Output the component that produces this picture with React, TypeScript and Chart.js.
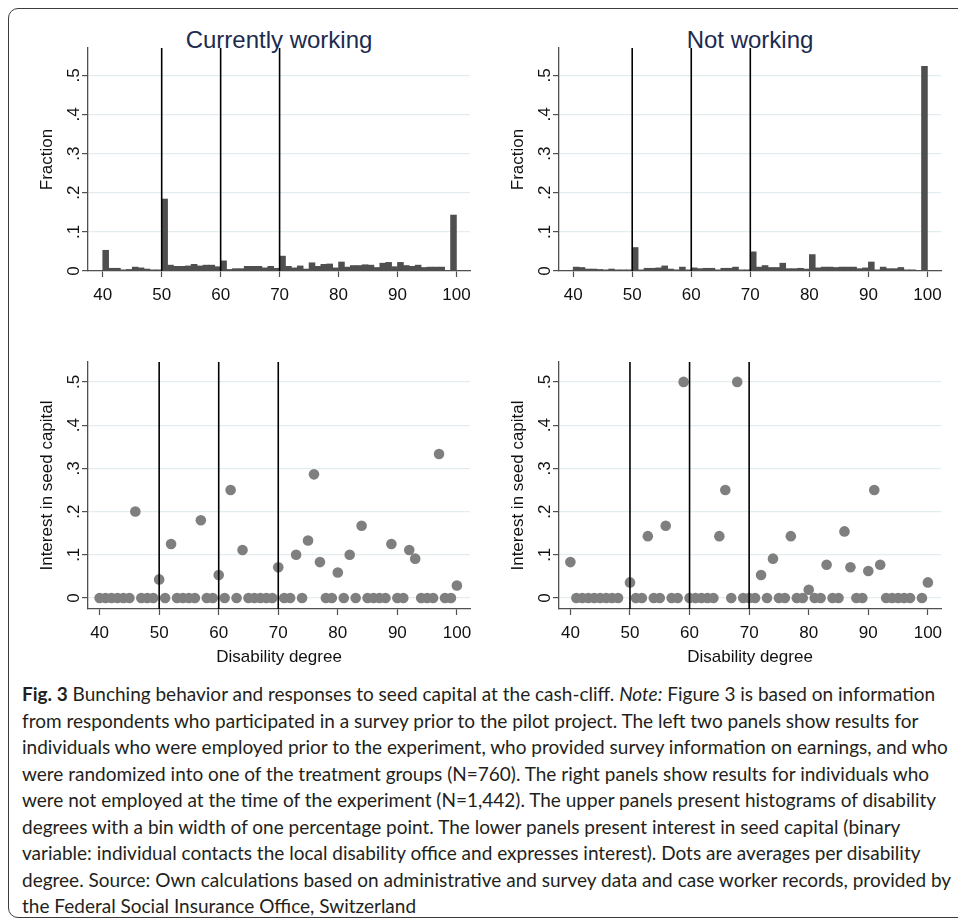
import React, { useEffect, useRef } from "react";
import { Chart, registerables } from "chart.js";

Chart.register(...registerables);

// ---------- data ----------
const histBins = [
  40, 41, 42, 43, 44, 45, 46, 47, 48, 49,
  50, 51, 52, 53, 54, 55, 56, 57, 58, 59,
  60, 61, 62, 63, 64, 65, 66, 67, 68, 69,
  70, 71, 72, 73, 74, 75, 76, 77, 78, 79,
  80, 81, 82, 83, 84, 85, 86, 87, 88, 89,
  90, 91, 92, 93, 94, 95, 96, 97, 98, 99,
];
const workingFraction = [
  0.053, 0.007, 0.007, 0.003, 0.004, 0.010, 0.008, 0.005, 0.003, 0.003,
  0.184, 0.015, 0.012, 0.012, 0.013, 0.017, 0.013, 0.015, 0.015, 0.011,
  0.026, 0.004, 0.006, 0.006, 0.012, 0.012, 0.012, 0.008, 0.012, 0.007,
  0.038, 0.012, 0.008, 0.013, 0.005, 0.021, 0.012, 0.017, 0.018, 0.008,
  0.023, 0.010, 0.014, 0.014, 0.016, 0.015, 0.009, 0.020, 0.022, 0.011,
  0.022, 0.014, 0.012, 0.015, 0.009, 0.010, 0.010, 0.010, 0.000, 0.143,
];
const notWorkingFraction = [
  0.010, 0.009, 0.005, 0.005, 0.004, 0.003, 0.005, 0.003, 0.003, 0.003,
  0.060, 0.003, 0.007, 0.007, 0.008, 0.013, 0.005, 0.003, 0.010, 0.003,
  0.008, 0.006, 0.007, 0.007, 0.003, 0.007, 0.007, 0.010, 0.003, 0.003,
  0.049, 0.010, 0.014, 0.009, 0.009, 0.020, 0.006, 0.006, 0.007, 0.005,
  0.042, 0.008, 0.010, 0.010, 0.009, 0.010, 0.010, 0.010, 0.006, 0.008,
  0.023, 0.003, 0.010, 0.006, 0.006, 0.009, 0.003, 0.003, 0.000, 0.523,
];

const degreesWorking = [
  40, 41, 42, 43, 44, 45, 46, 47, 48, 49,
  50, 51, 52, 53, 54, 55, 56, 57, 58, 59,
  60, 61, 62, 63, 64, 65, 66, 67, 68, 69,
  70, 71, 72, 73, 74, 75, 76, 77, 78, 79,
  80, 81, 82, 83, 84, 85, 86, 87, 88, 89,
  90, 91, 92, 93, 94, 95, 96, 97, 98, 99, 100,
];
const interestWorking = [
  0, 0, 0, 0, 0, 0, 0.2, 0, 0, 0,
  0.043, 0, 0.125, 0, 0, 0, 0, 0.18, 0, 0,
  0.053, 0, 0.25, 0, 0.111, 0, 0, 0, 0, 0,
  0.071, 0, 0, 0.1, 0, 0.133, 0.286, 0.083, 0, 0,
  0.059, 0, 0.1, 0, 0.167, 0, 0, 0, 0, 0.125,
  0, 0, 0.111, 0.091, 0, 0, 0, 0.333, 0, 0, 0.029,
];

const degreesNotWorking = [
  40, 41, 42, 43, 44, 45, 46, 47, 48,
  50, 51, 52, 53, 54, 55, 56, 57, 58, 59,
  60, 61, 62, 63, 64, 65, 66, 67, 68, 69,
  70, 71, 72, 73, 74, 75, 76, 77, 78, 79,
  80, 81, 82, 83, 84, 85, 86, 87, 88, 89,
  90, 91, 92, 93, 94, 95, 96, 97, 99, 100,
];
const interestNotWorking = [
  0.083, 0, 0, 0, 0, 0, 0, 0, 0,
  0.036, 0, 0, 0.143, 0, 0, 0.167, 0, 0, 0.5,
  0, 0, 0, 0, 0, 0.143, 0.25, 0, 0.5, 0,
  0, 0, 0.053, 0, 0.091, 0, 0, 0.143, 0, 0,
  0.019, 0, 0, 0.077, 0, 0, 0.154, 0.071, 0, 0,
  0.0625, 0.25, 0.077, 0, 0, 0, 0, 0, 0, 0.036,
];

const cutoffs = [50, 60, 70];
const xTickValues = [40, 50, 60, 70, 80, 90, 100];
const yTickValues = [0, 0.1, 0.2, 0.3, 0.4, 0.5];
const yTickLabels = ["0", ".1", ".2", ".3", ".4", ".5"];
const panelTitles = ["Currently working", "Not working"];
const yTitles = ["Fraction", "Interest in seed capital"];
const xTitle = "Disability degree";

const captionLines = [
  "from respondents who participated in a survey prior to the pilot project. The left two panels show results for",
  "individuals who were employed prior to the experiment, who provided survey information on earnings, and who",
  "were randomized into one of the treatment groups (N=760). The right panels show results for individuals who",
  "were not employed at the time of the experiment (N=1,442). The upper panels present histograms of disability",
  "degrees with a bin width of one percentage point. The lower panels present interest in seed capital (binary",
  "variable: individual contacts the local disability office and expresses interest). Dots are averages per disability",
  "degree. Source: Own calculations based on administrative and survey data and case worker records, provided by",
  "the Federal Social Insurance Office, Switzerland",
];

// ---------- style ----------
const FONT = "'Liberation Sans', Arial, Helvetica, sans-serif";
const AXIS = "#505050";
const GRID = "#e3ecee";
const TEXT = "#111111";
const BAR = "#4f4f4f";
const DOT = "#7f7f7f";

type Frame = {
  plotLeft: number;
  plotRight: number;
  plotTop: number;
  plotBottom: number;
  canvasLeft: number;
  canvasTop: number;
  canvasRight: number;
  canvasBottom: number;
};

type PanelProps = {
  kind: "hist" | "scatter";
  xs: number[];
  ys: number[];
  frame: Frame;
  xMin: number;
  xMax: number;
  yMin: number;
  yMax: number;
  yTitle: string;
  showXTitle: boolean;
};

function Panel(props: PanelProps) {
  const ref = useRef<HTMLCanvasElement | null>(null);
  const { kind, xs, ys, frame, xMin, xMax, yMin, yMax, yTitle, showXTitle } = props;
  const w = frame.canvasRight - frame.canvasLeft;
  const h = frame.canvasBottom - frame.canvasTop;

  useEffect(() => {
    if (!ref.current) return;
    const points = xs.map((x, i) => ({ x: kind === "hist" ? x + 0.5 : x, y: ys[i] }));
    const lineSets = cutoffs.map((c) => ({
      type: "line" as const,
      data: [
        { x: c, y: yMin },
        { x: c, y: yMax },
      ],
      borderColor: "#000000",
      borderWidth: 1.6,
      pointRadius: 0,
      fill: false,
      showLine: true,
      order: 0,
    }));
    const main =
      kind === "hist"
        ? {
            type: "bar" as const,
            data: points,
            backgroundColor: BAR,
            borderWidth: 0,
            barPercentage: 1,
            categoryPercentage: 1,
            order: 2,
          }
        : {
            type: "scatter" as const,
            data: points,
            pointRadius: 5.3,
            pointBackgroundColor: DOT,
            pointBorderWidth: 0,
            borderColor: DOT,
            showLine: false,
            order: 2,
          };

    const chart = new Chart(ref.current, {
      type: kind === "hist" ? "bar" : "scatter",
      data: { datasets: [main as any, ...(lineSets as any[])] },
      options: {
        animation: false,
        responsive: false,
        maintainAspectRatio: false,
        layout: {
          padding: {
            left: 0,
            top: frame.plotTop - frame.canvasTop,
            right: frame.canvasRight - frame.plotRight,
            bottom: 0,
          },
        },
        plugins: {
          legend: { display: false },
          tooltip: { enabled: false },
          title: { display: false },
        },
        scales: {
          x: {
            type: "linear",
            offset: false,
            min: xMin,
            max: xMax,
            afterBuildTicks: (s: any) => {
              s.ticks = xTickValues.map((v) => ({ value: v }));
            },
            afterFit: (s: any) => {
              s.height = frame.canvasBottom - frame.plotBottom;
              s.paddingLeft = 0;
              s.paddingRight = 0;
            },
            grid: {
              display: true,
              offset: false,
              drawOnChartArea: false,
              drawTicks: true,
              tickLength: 6,
              tickColor: AXIS,
              tickWidth: 1.2,
            },
            border: { display: true, color: AXIS, width: 1.3 },
            ticks: {
              font: { family: FONT, size: 17 },
              color: TEXT,
              padding: 8,
              maxRotation: 0,
              minRotation: 0,
              autoSkip: false,
              callback: (_v: any, i: number) => String(xTickValues[i]),
            },
            title: {
              display: showXTitle,
              text: xTitle,
              font: { family: FONT, size: 17 },
              color: TEXT,
              padding: { top: 0, bottom: 0 },
            },
          },
          y: {
            type: "linear",
            min: yMin,
            max: yMax,
            afterBuildTicks: (s: any) => {
              s.ticks = yTickValues.map((v) => ({ value: v }));
            },
            afterFit: (s: any) => {
              s.width = frame.plotLeft - frame.canvasLeft;
              s.paddingTop = 0;
              s.paddingBottom = 0;
            },
            grid: {
              display: true,
              drawOnChartArea: true,
              color: GRID,
              lineWidth: 1.2,
              drawTicks: true,
              tickLength: 6,
              tickColor: AXIS,
              tickWidth: 1.2,
            },
            border: { display: true, color: AXIS, width: 1.3 },
            ticks: {
              font: { family: FONT, size: 17 },
              color: TEXT,
              padding: 1,
              minRotation: 90,
              maxRotation: 90,
              crossAlign: "center",
              autoSkip: false,
              callback: (_v: any, i: number) => yTickLabels[i],
            },
            title: {
              display: true,
              text: yTitle,
              font: { family: FONT, size: 17 },
              color: TEXT,
              padding: { top: frame.plotLeft - 41 - frame.canvasLeft - 10, bottom: 0 },
            },
          },
        },
      } as any,
    });
    return () => chart.destroy();
  }, []);

  return (
    <canvas
      ref={ref}
      width={w}
      height={h}
      style={{
        position: "absolute",
        left: frame.canvasLeft,
        top: frame.canvasTop,
        width: w,
        height: h,
      }}
    />
  );
}

function makeFrame(plotLeft: number, plotRight: number, plotTop: number, plotBottom: number, canvasBottom: number): Frame {
  return {
    plotLeft,
    plotRight,
    plotTop,
    plotBottom,
    canvasLeft: plotLeft - 70,
    canvasTop: plotTop - 8,
    canvasRight: plotRight + 6,
    canvasBottom,
  };
}

export default function App() {
  const frTL = makeFrame(88, 470, 48, 271, 314);
  const frTR = makeFrame(559, 941, 48, 271, 314);
  const frBL = makeFrame(88, 470, 362, 609, 668);
  const frBR = makeFrame(559, 941, 362, 609, 668);

  return (
    <div
      style={{
        position: "absolute",
        left: 0,
        top: 0,
        width: 958,
        height: 923,
        overflow: "hidden",
        background: "#ffffff",
      }}
    >
      <div
        style={{
          position: "absolute",
          left: 8,
          top: 8,
          width: 990,
          height: 908,
          border: "1.5px solid #3c3c3c",
          borderRadius: 10,
        }}
      />
      {[frTL, frTR].map((f, i) => (
        <div
          key={i}
          style={{
            position: "absolute",
            left: f.plotLeft,
            width: f.plotRight - f.plotLeft,
            top: 26,
            height: 28,
            lineHeight: "28px",
            textAlign: "center",
            fontFamily: FONT,
            fontSize: 24,
            color: "#1d2b50",
            whiteSpace: "nowrap",
          }}
        >
          {panelTitles[i]}
        </div>
      ))}
      <Panel kind="hist" xs={histBins} ys={workingFraction} frame={frTL} xMin={37.5} xMax={102.3} yMin={0} yMax={0.57} yTitle={yTitles[0]} showXTitle={false} />
      <Panel kind="hist" xs={histBins} ys={notWorkingFraction} frame={frTR} xMin={37.6} xMax={102.3} yMin={0} yMax={0.57} yTitle={yTitles[0]} showXTitle={false} />
      <Panel kind="scatter" xs={degreesWorking} ys={interestWorking} frame={frBL} xMin={38.05} xMax={102.2} yMin={-0.0255} yMax={0.546} yTitle={yTitles[1]} showXTitle={true} />
      <Panel kind="scatter" xs={degreesNotWorking} ys={interestNotWorking} frame={frBR} xMin={38.09} xMax={102.2} yMin={-0.0255} yMax={0.546} yTitle={yTitles[1]} showXTitle={true} />
      <div
        style={{
          position: "absolute",
          left: 22,
          top: 681,
          fontFamily: "Lato, 'Noto Sans', sans-serif",
          fontSize: 19,
          lineHeight: "26.5px",
          color: "#231f20",
          whiteSpace: "nowrap",
        }}
      >
        <div>
          <b>Fig. 3</b> Bunching behavior and responses to seed capital at the cash-cliff. <i>Note:</i> Figure 3 is
          based on information
        </div>
        {captionLines.map((l, i) => (
          <div key={i}>{l}</div>
        ))}
      </div>
    </div>
  );
}
